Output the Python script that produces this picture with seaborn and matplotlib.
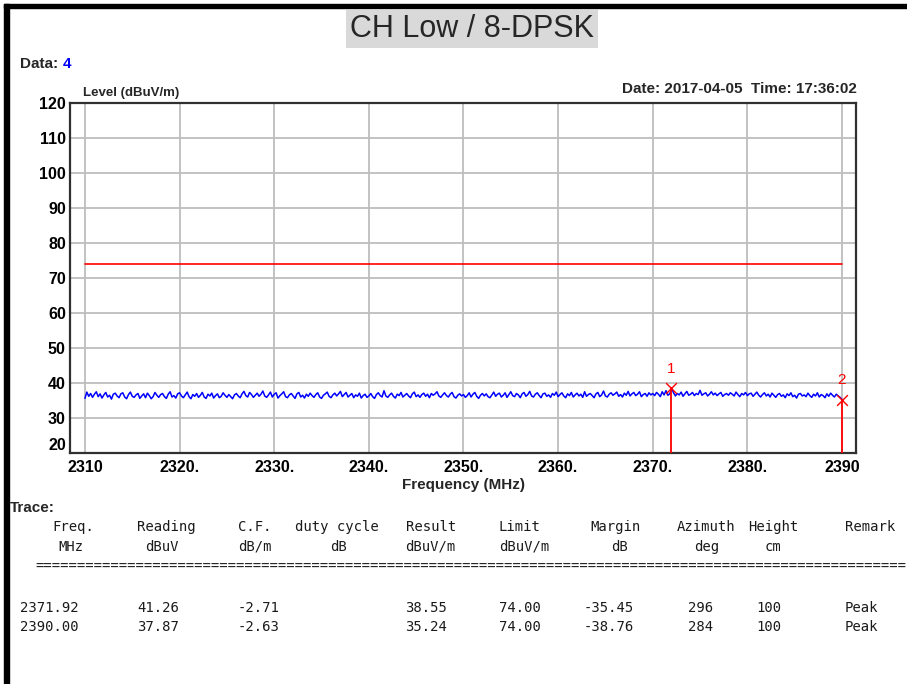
import numpy as np
import pandas as pd
import matplotlib.pyplot as plt
import seaborn as sns
from matplotlib.patches import Rectangle

sns.set_theme(style='white')
plt.rcParams['font.family'] = ['Liberation Sans', 'DejaVu Sans']

# --- data ---
title = 'CH Low / 8-DPSK'
data_no = '4'
stamp = 'Date: 2017-04-05  Time: 17:36:02'

freq_start, freq_stop = 2310, 2390
# trace level (dBuV/m), 0.2 MHz spacing
level = [
    35.6, 37.4, 36.2, 37.0, 35.9, 36.8, 37.5, 36.1, 36.9, 35.7, 36.6, 37.3, 36.0, 36.5, 35.4, 36.8, 37.1, 36.3, 35.8, 36.9,
    37.2, 36.0, 35.5, 36.7, 37.4, 36.2, 35.9, 36.6, 37.0, 35.6, 36.3, 36.9, 35.8, 37.1, 36.4, 35.5, 36.1, 37.3, 36.5, 35.9,
    36.7, 37.0, 36.1, 35.6, 36.8, 37.5, 36.0, 36.4, 35.7, 36.9, 37.2, 36.3, 35.8, 36.6, 37.4, 36.1, 35.5, 36.7, 36.2, 37.0,
    35.9, 36.5, 37.3, 36.0, 35.6, 36.8, 36.3, 37.1, 35.7, 36.4, 36.9, 35.8, 36.2, 37.2, 36.5, 35.9, 36.7, 36.1, 35.5, 36.6,
    37.0, 36.3, 35.8, 36.9, 37.6, 36.4, 36.0, 37.3, 36.7, 35.9, 36.5, 37.1, 36.2, 36.8, 37.7, 36.3, 35.9, 36.6, 37.4, 36.0,
    36.8, 37.2, 35.7, 36.4, 36.9, 37.5, 36.1, 35.8, 36.6, 37.0, 36.3, 35.6, 36.9, 37.3, 36.0, 36.5, 35.7, 36.8, 36.2, 37.1,
    36.4, 35.9, 36.7, 37.2, 36.0, 35.6, 36.5, 36.9, 37.4, 36.2, 35.8, 36.6, 37.1, 36.3, 36.9, 37.6, 36.1, 36.7, 37.3, 36.0,
    36.5, 37.0, 35.8, 36.6, 36.2, 37.1, 35.7, 36.4, 36.8, 35.9, 36.3, 37.0, 36.1, 35.6, 36.7, 37.2, 36.4, 36.0, 37.8, 36.3,
    35.9, 36.6, 37.1, 36.2, 35.7, 36.8, 36.4, 37.3, 36.0, 36.5, 37.0, 36.3, 35.8, 36.9, 37.4, 36.1, 36.6, 35.9, 36.7, 37.1,
    36.2, 36.8, 35.8, 37.0, 36.5, 36.9, 37.5, 36.3, 35.9, 36.6, 37.2, 36.4, 36.0, 36.8, 37.3, 36.1, 35.7, 36.5, 36.9, 36.3,
    36.7, 35.9, 36.4, 37.2, 36.0, 36.8, 37.3, 36.2, 35.6, 36.5, 37.0, 36.3, 36.9, 36.1, 35.8, 36.6, 37.4, 36.2, 36.8, 37.1,
    36.0, 36.5, 37.2, 35.9, 36.7, 37.5, 36.4, 36.1, 37.0, 36.6, 35.8, 36.9, 37.3, 36.2, 36.7, 37.6, 36.3, 36.0, 36.8, 37.2,
    36.4, 35.8, 36.9, 37.1, 36.2, 36.6, 35.9, 37.0, 36.5, 37.4, 36.1, 36.7, 37.2, 36.3, 35.8, 36.9, 36.4, 37.3, 36.0, 36.6,
    37.1, 36.3, 36.8, 35.9, 37.5, 36.2, 36.7, 37.0, 36.4, 35.8, 36.9, 37.3, 36.1, 36.6, 37.7, 36.3, 36.0, 36.8, 37.2, 36.5,
    36.9, 37.4, 36.2, 36.7, 36.0, 37.1, 36.5, 37.6, 36.3, 36.9, 37.3, 36.4, 36.8, 37.5, 36.1, 36.7, 37.0, 36.2, 37.2, 36.6,
    37.0, 36.4, 37.3, 36.8, 36.1, 37.5, 36.6, 37.8, 36.5, 36.9, 38.5, 37.2, 36.3, 37.0, 36.6, 37.4, 36.2, 36.9, 37.6, 36.5,
    36.8, 37.3, 36.4, 37.0, 36.7, 37.9, 36.5, 36.9, 37.2, 36.3, 36.8, 37.5, 36.6, 37.1, 36.4, 36.9, 37.3, 36.2, 36.7, 37.0,
    36.5, 37.2, 36.8, 36.3, 37.4, 36.7, 36.1, 37.0, 36.6, 37.3, 36.4, 36.9, 37.1, 36.2, 36.8, 37.4, 36.5, 36.0, 36.7, 37.2,
    36.3, 36.8, 36.0, 37.1, 36.5, 35.9, 36.7, 37.0, 36.2, 36.6, 35.8, 36.9, 36.4, 37.2, 36.1, 36.5, 35.7, 36.8, 37.0, 36.3,
    36.6, 36.1, 37.1, 36.4, 35.9, 36.8, 36.3, 37.2, 36.0, 36.7, 36.4, 35.8, 36.9, 36.2, 37.1, 36.5, 36.0, 36.8, 36.3, 35.9,
    35.3,
]
freq = np.linspace(freq_start, freq_stop, len(level))

limit_freq = [2310, 2390]
limit_level = [74, 74]

y_ticks = [20, 30, 40, 50, 60, 70, 80, 90, 100, 110, 120]
x_ticks = [2310, 2320, 2330, 2340, 2350, 2360, 2370, 2380, 2390]
x_ticklabels = ['2310', '2320.', '2330.', '2340.', '2350.', '2360.', '2370.', '2380.', '2390']

marker_id = ['1', '2']
marker_freq = [2371.92, 2390.00]
marker_reading = [41.26, 37.87]
marker_cf = [-2.71, -2.63]
marker_result = [38.55, 35.24]
marker_limit = [74.00, 74.00]
marker_margin = [-35.45, -38.76]
marker_azimuth = [296, 284]
marker_height = [100, 100]
marker_remark = ['Peak', 'Peak']

header_top = ['Freq.', 'Reading', 'C.F.', 'duty cycle', 'Result', 'Limit',
              'Margin', 'Azimuth', 'Height', 'Remark']
header_unit = ['MHz', 'dBuV', 'dB/m', 'dB', 'dBuV/m', 'dBuV/m', 'dB', 'deg', 'cm']

# --- layout (pixels of a 907x684 canvas) ---
W, H = 907, 684


def fx(px):
    return px / W


def fy(py):
    return 1 - py / H


fig = plt.figure(figsize=(W / 100, H / 100), dpi=100)
fig.patch.set_facecolor('white')

# black frame pieces at left / top
fig.add_artist(Rectangle((fx(4), 0), fx(5), fy(4), color='black',
                         transform=fig.transFigure))
fig.add_artist(Rectangle((fx(4), fy(8)), 1, 4 / H, color='black',
                         transform=fig.transFigure))

ax = fig.add_axes([fx(70), fy(453), 786 / W, 350 / H])

trace = pd.DataFrame({'freq': freq, 'level': level})
sns.lineplot(data=trace, x='freq', y='level', ax=ax, color='#0000ff',
             linewidth=1.1, estimator=None, sort=False)
sns.lineplot(x=limit_freq, y=limit_level, ax=ax, color='#ff0000', linewidth=1.2)

# markers
ax.vlines(marker_freq, 20, marker_result, color='#ff0000', linewidth=1.3, zorder=4)
sns.scatterplot(x=marker_freq, y=marker_result, ax=ax, marker='x', s=60,
                color='#ff0000', linewidth=1.0, zorder=5)
for mid, mf, mr in zip(marker_id, marker_freq, marker_result):
    ax.annotate(mid, (mf, mr), xytext=(0, 14), textcoords='offset points',
                ha='center', va='center', color='#ff0000', fontsize=11)

ax.set_xlim(2308.42, 2391.48)
ax.set_ylim(20, 120)
ax.set_xticks(x_ticks)
ax.set_xticklabels(x_ticklabels)
ax.set_yticks(y_ticks)
ax.set_yticklabels([str(v) for v in y_ticks])
ax.tick_params(axis='both', length=0, labelsize=11.5, colors='black')
ax.tick_params(axis='y', pad=3)
ax.tick_params(axis='x', pad=5)
for lab in ax.get_xticklabels() + ax.get_yticklabels():
    lab.set_fontweight('bold')
ax.get_yticklabels()[0].set_verticalalignment('bottom')

ax.grid(True, color='#bdbdbd', linewidth=1.3)
for sp in ax.spines.values():
    sp.set_color('#303030')
    sp.set_linewidth(1.6)
ax.set_xlabel('Frequency (MHz)', fontsize=11, fontweight='bold', labelpad=2)
ax.set_ylabel('')

# header texts
fig.text(fx(472), fy(29), title, fontsize=22, ha='center', va='center',
         bbox=dict(facecolor='#d9d9d9', edgecolor='none', pad=3))
t = fig.text(fx(20), fy(64), 'Data: ', fontsize=11, fontweight='bold', va='center')
ax.annotate(data_no, xy=(1, 0), xycoords=t, va='bottom', fontsize=11,
            fontweight='bold', color='#0000ff')
fig.text(fx(83), fy(93), 'Level (dBuV/m)', fontsize=9.5, fontweight='bold', va='center')
fig.text(fx(857), fy(89), stamp, fontsize=11, fontweight='bold', ha='right', va='center')

# trace table
fig.text(fx(10), fy(508), 'Trace:', fontsize=11, fontweight='bold', va='center')
mono = dict(family='DejaVu Sans Mono', fontsize=10, va='center', color='#1a1a1a')
top_x = [52, 137, 238, 295, 406, 499, 590, 677, 748, 845]
unit_x = [58, 145, 238, 330, 405, 499, 611, 694, 765]
for s, x in zip(header_top, top_x):
    fig.text(fx(x), fy(527), s, **mono)
for s, x in zip(header_unit, unit_x):
    fig.text(fx(x), fy(547), s, **mono)
fig.text(fx(35), fy(567), '=' * 104, **mono)

row_x = [20, 137, 238, 405, 499, 584, 688, 756, 845]
for i, ry in enumerate([608, 627]):
    cells = [f'{marker_freq[i]:.2f}', f'{marker_reading[i]:.2f}', f'{marker_cf[i]:.2f}',
             f'{marker_result[i]:.2f}', f'{marker_limit[i]:.2f}', f'{marker_margin[i]:.2f}',
             str(marker_azimuth[i]), str(marker_height[i]), marker_remark[i]]
    for s, x in zip(cells, row_x):
        fig.text(fx(x), fy(ry), s, **mono)

fig.savefig('out.png', dpi=100)
